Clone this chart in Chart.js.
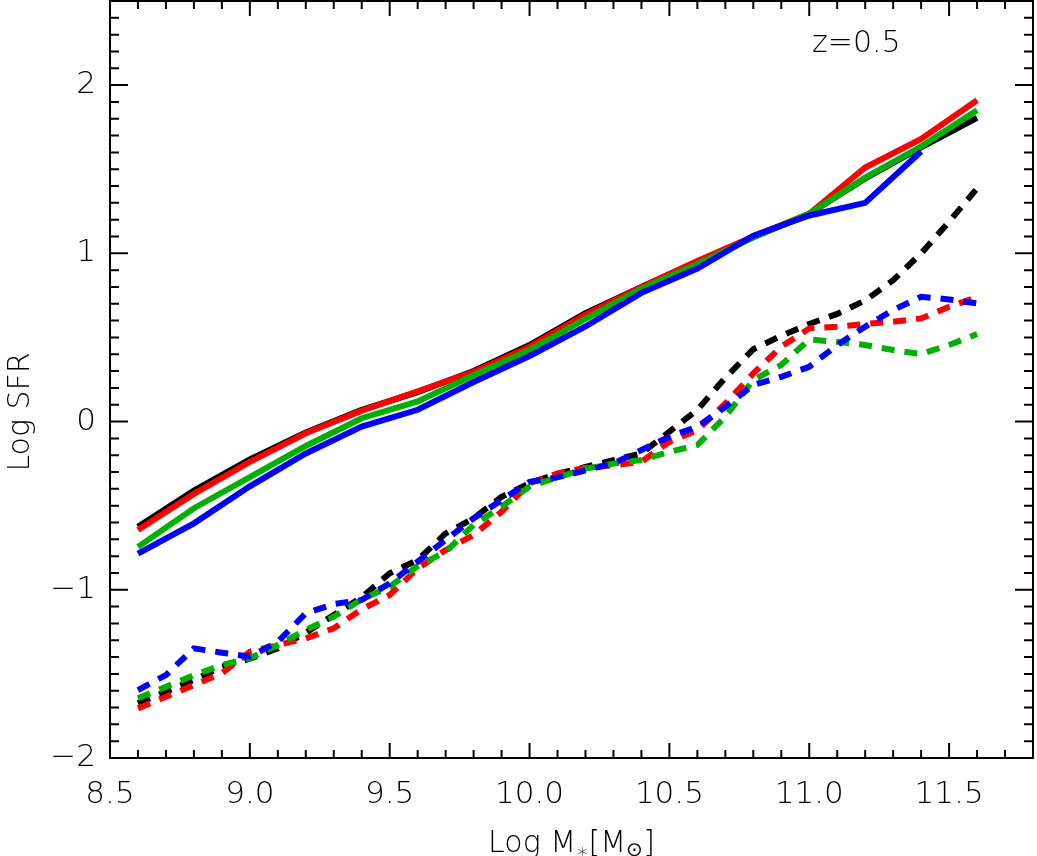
<!DOCTYPE html>
<html>
<head>
<meta charset="utf-8">
<title>Log SFR vs Log M*</title>
<script src="https://cdn.jsdelivr.net/npm/chart.js@4.4.1/dist/chart.umd.min.js"></script>
<style>
  html, body { margin: 0; padding: 0; background: #fff; }
  #wrap { width: 1037px; height: 856px; }
</style>
</head>
<body>
<div id="wrap"><canvas id="sfrChart" width="1037" height="856"></canvas></div>
<script>
// stellar mass bins (solid curves every 0.2 dex, dashed every 0.1 dex)
const massSolid = [8.6, 8.8, 9.0, 9.2, 9.4, 9.6, 9.8, 10.0, 10.2, 10.4, 10.6, 10.8, 11.0, 11.2, 11.4, 11.6];
const massDash = [8.6, 8.7, 8.8, 8.9, 9.0, 9.1, 9.2, 9.3, 9.4, 9.5, 9.6, 9.7, 9.8, 9.9, 10.0, 10.1,
                  10.2, 10.3, 10.4, 10.5, 10.6, 10.7, 10.8, 10.9, 11.0, 11.1, 11.2, 11.3, 11.4, 11.5, 11.6];

// solid lines
const solidBlack = [-0.625, -0.41, -0.225, -0.065, 0.07, 0.175, 0.30, 0.455, 0.645, 0.80, 0.95, 1.095, 1.235, 1.445, 1.63, 1.805];
const solidRed   = [-0.645, -0.43, -0.24, -0.07, 0.065, 0.18, 0.295, 0.445, 0.635, 0.80, 0.955, 1.10, 1.235, 1.51, 1.68, 1.91];
const solidGreen = [-0.745, -0.515, -0.33, -0.145, 0.02, 0.12, 0.275, 0.425, 0.61, 0.79, 0.935, 1.095, 1.235, 1.45, 1.635, 1.85];
const solidBlue  = [-0.785, -0.605, -0.385, -0.19, -0.03, 0.07, 0.235, 0.39, 0.565, 0.765, 0.91, 1.105, 1.225, 1.30, 1.605, null];

// dashed lines
const dashBlack = [-1.675, -1.606, -1.536, -1.457, -1.41, -1.348, -1.255, -1.15, -1.045, -0.902, -0.823, -0.665, -0.575, -0.447, -0.367, -0.31,
                   -0.27, -0.23, -0.19, -0.06, 0.07, 0.26, 0.43, 0.51, 0.58, 0.64, 0.72, 0.84, 1.0, 1.188, 1.386];
const dashRed   = [-1.705, -1.636, -1.566, -1.497, -1.368, -1.328, -1.289, -1.229, -1.116, -1.031, -0.873, -0.764, -0.675, -0.536, -0.367, -0.308,
                   -0.275, -0.26, -0.239, -0.12, -0.051, 0.108, 0.286, 0.445, 0.554, 0.564, 0.58, 0.593, 0.613, 0.682, 0.74];
const dashGreen = [-1.645, -1.576, -1.507, -1.447, -1.407, -1.328, -1.239, -1.16, -1.057, -0.982, -0.859, -0.774, -0.615, -0.506, -0.387, -0.332,
                   -0.28, -0.25, -0.229, -0.18, -0.14, 0.029, 0.247, 0.336, 0.488, 0.474, 0.455, 0.425, 0.401, 0.455, 0.52];
const dashBlue  = [-1.596, -1.507, -1.348, -1.374, -1.398, -1.309, -1.14, -1.085, -1.06, -0.962, -0.833, -0.704, -0.575, -0.467, -0.358, -0.332,
                   -0.29, -0.249, -0.169, -0.09, -0.031, 0.088, 0.217, 0.266, 0.326, 0.455, 0.564, 0.663, 0.742, 0.726, 0.702];

const xTickVals = [8.5, 9.0, 9.5, 10.0, 10.5, 11.0, 11.5];
const yTickVals = [-2, -1, 0, 1, 2];

const FONT = '"DejaVu Sans", sans-serif';
const WEIGHT = '200';
const GREEN = '#00b000';

function toPoints(xs, ys) {
    const pts = [];
    xs.forEach((x, i) => {
        if (ys[i] !== null && ys[i] !== undefined) pts.push({ x: x, y: ys[i] });
    });
    return pts;
}

function makeSet(label, xs, ys, color, dashed, order) {
    return {
        label: label,
        data: toPoints(xs, ys),
        borderColor: color,
        backgroundColor: color,
        borderWidth: 6,
        borderDash: dashed ? [13, 10] : [],
        borderCapStyle: 'butt',
        borderJoinStyle: 'miter',
        pointRadius: 0,
        tension: 0,
        fill: false,
        order: order
    };
}

// frame, inward ticks on all four sides, titles and the redshift label
const framePlugin = {
    id: 'frame',
    afterDraw(chart) {
        const ctx = chart.ctx;
        const a = chart.chartArea;
        const xs = chart.scales.x;
        const ys = chart.scales.y;
        ctx.save();
        ctx.strokeStyle = '#000';
        ctx.lineWidth = 2;
        ctx.setLineDash([]);
        ctx.strokeRect(a.left, a.top, a.right - a.left, a.bottom - a.top);

        ctx.beginPath();
        for (let i = 85; i <= 118; i++) {
            const px = xs.getPixelForValue(i / 10);
            const len = i % 5 === 0 ? 15 : 8;
            ctx.moveTo(px, a.bottom); ctx.lineTo(px, a.bottom - len);
            ctx.moveTo(px, a.top); ctx.lineTo(px, a.top + len);
        }
        for (let j = -20; j <= 25; j++) {
            const py = ys.getPixelForValue(j / 10);
            const len = j % 10 === 0 ? 18 : 9;
            ctx.moveTo(a.left, py); ctx.lineTo(a.left + len, py);
            ctx.moveTo(a.right, py); ctx.lineTo(a.right - len, py);
        }
        ctx.stroke();

        ctx.fillStyle = '#000';
        ctx.textBaseline = 'alphabetic';

        // z label
        ctx.font = WEIGHT + ' 30px ' + FONT;
        ctx.textAlign = 'left';
        ctx.fillText('z=0.5', 812, 52);

        // y title
        ctx.save();
        ctx.translate(29, 412);
        ctx.rotate(-Math.PI / 2);
        ctx.textAlign = 'center';
        ctx.font = WEIGHT + ' 30px ' + FONT;
        ctx.fillText('Log SFR', 0, 0);
        ctx.restore();

        // x title with subscripts
        const big = WEIGHT + ' 30px ' + FONT;
        const small = WEIGHT + ' 20px ' + FONT;
        const parts = [
            { t: 'Log M', f: big, dy: 0 },
            { t: '\u2217', f: small, dy: 6 },
            { t: '[M', f: big, dy: 0 },
            { t: '\u2299', f: small, dy: 4 },
            { t: ']', f: big, dy: 0 }
        ];
        let total = 0;
        parts.forEach(p => { ctx.font = p.f; p.w = ctx.measureText(p.t).width; total += p.w; });
        let cx = (a.left + a.right) / 2 - total / 2;
        const base = 852;
        ctx.textAlign = 'left';
        parts.forEach(p => {
            ctx.font = p.f;
            ctx.fillText(p.t, cx, base + p.dy);
            cx += p.w;
        });
        ctx.restore();
    }
};

function init() {
    const ctx = document.getElementById('sfrChart').getContext('2d');
    new Chart(ctx, {
        type: 'line',
        data: {
            datasets: [
                makeSet('solid black', massSolid, solidBlack, '#000000', false, 4),
                makeSet('solid red', massSolid, solidRed, '#ff0000', false, 3),
                makeSet('solid green', massSolid, solidGreen, GREEN, false, 2),
                makeSet('solid blue', massSolid, solidBlue, '#0000ff', false, 1),
                makeSet('dashed black', massDash, dashBlack, '#000000', true, 4),
                makeSet('dashed red', massDash, dashRed, '#ff0000', true, 3),
                makeSet('dashed green', massDash, dashGreen, GREEN, true, 2),
                makeSet('dashed blue', massDash, dashBlue, '#0000ff', true, 1)
            ]
        },
        options: {
            responsive: false,
            animation: false,
            layout: { padding: { top: 1, right: 4, left: 0, bottom: 0 } },
            plugins: { legend: { display: false }, tooltip: { enabled: false } },
            scales: {
                x: {
                    type: 'linear',
                    min: 8.5,
                    max: 11.8,
                    afterBuildTicks: s => { s.ticks = xTickVals.map(v => ({ value: v })); },
                    afterFit: s => { s.height = 98; s.paddingLeft = 0; s.paddingRight = 0; },
                    grid: { display: false, drawTicks: false },
                    border: { display: false },
                    ticks: {
                        autoSkip: false, maxRotation: 0, padding: 18, color: '#000',
                        font: { family: FONT, size: 31, weight: WEIGHT },
                        callback: v => v.toFixed(1)
                    }
                },
                y: {
                    type: 'linear',
                    min: -2,
                    max: 2.5,
                    afterBuildTicks: s => { s.ticks = yTickVals.map(v => ({ value: v })); },
                    afterFit: s => { s.width = 110; s.paddingTop = 0; s.paddingBottom = 0; },
                    grid: { display: false, drawTicks: false },
                    border: { display: false },
                    ticks: {
                        autoSkip: false, padding: 14, color: '#000',
                        font: { family: FONT, size: 31, weight: WEIGHT },
                        callback: v => v < 0 ? '\u2212' + Math.abs(v) : String(v)
                    }
                }
            }
        },
        plugins: [framePlugin]
    });
}

window.onload = init;
</script>
</body>
</html>
